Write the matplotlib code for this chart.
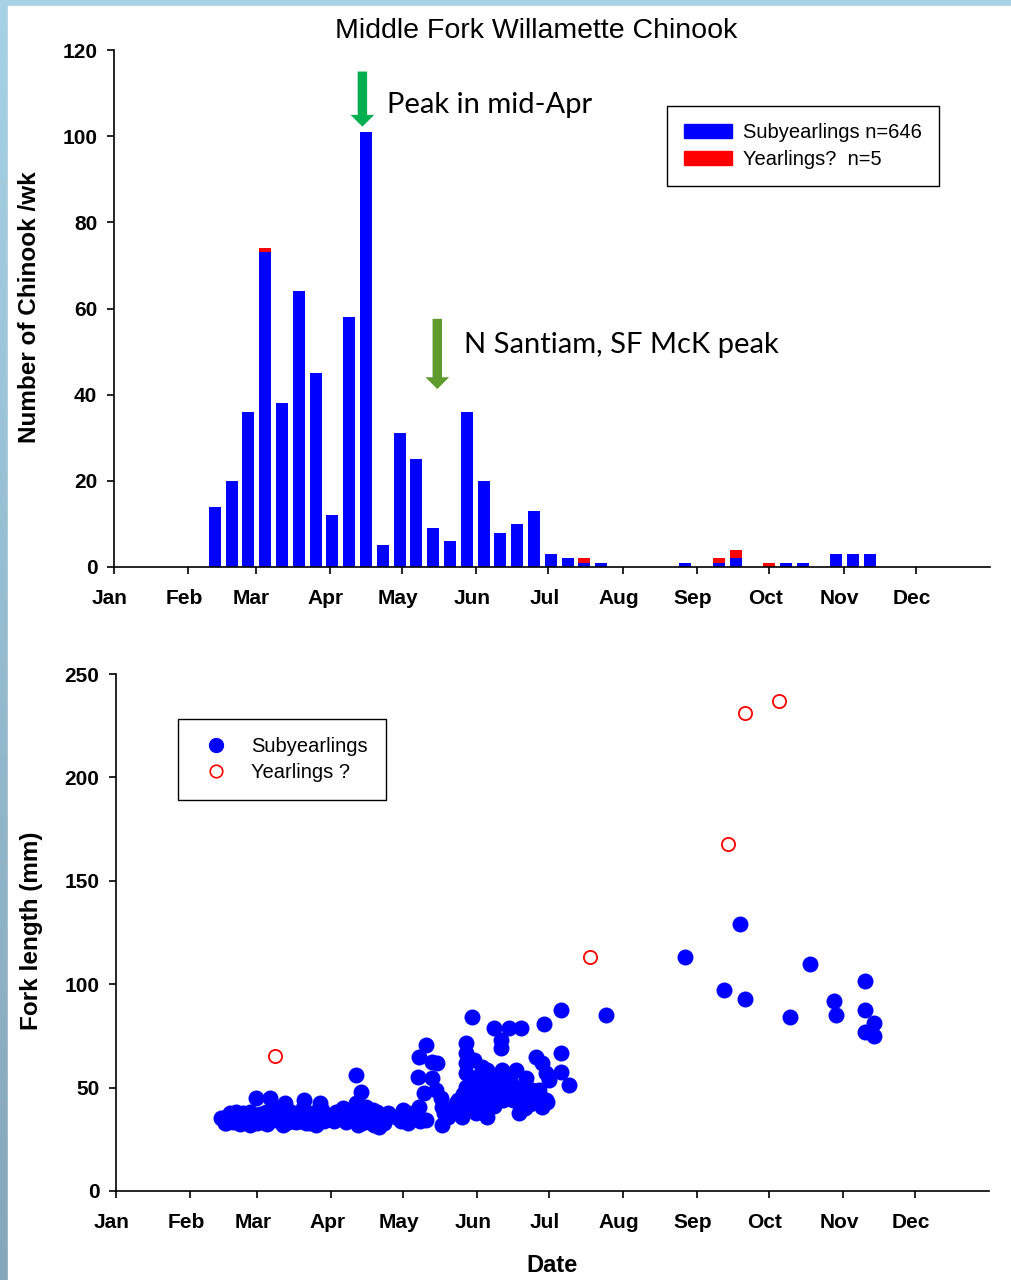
import matplotlib
matplotlib.use('Agg')
import matplotlib.pyplot as plt
import matplotlib.transforms as mtransforms
import numpy as np
from matplotlib.patches import Patch, Rectangle
from matplotlib.lines import Line2D

# weekly catch (day of year of the week, counts)
week_day = [42, 49, 56, 63, 70, 77, 84, 91, 98, 105, 112, 119, 126, 133, 140,
            147, 154, 161, 168, 175, 182, 189, 196, 203, 238, 252, 259, 273,
            280, 287, 301, 308, 315]
subyearling_n = [14, 20, 36, 73, 38, 64, 45, 12, 58, 101, 5, 31, 25, 9, 6,
                 36, 20, 8, 10, 13, 3, 2, 1, 1, 1, 1, 2, 0,
                 1, 1, 3, 3, 3]
yearling_n = [0, 0, 0, 1, 0, 0, 0, 0, 0, 0, 0, 0, 0, 0, 0,
              0, 0, 0, 0, 0, 0, 0, 1, 0, 0, 1, 2, 1,
              0, 0, 0, 0, 0]

# fork length of individual fish (day of year, mm)
sub_day = [44.1, 47.5, 50.3, 53.1, 45.5, 48.9, 58.7, 64.2, 70.5, 57.3, 55.9,
           61.4, 67.0, 69.8, 72.6, 62.8, 68.4, 78.8, 85.1, 76.7, 79.5, 83.7,
           86.5, 82.3, 75.3, 93.4, 96.2, 100.4, 102.4, 100.4, 104.5, 107.3,
           101.0, 110.1, 113.6, 105.9, 119.8, 121.2, 124.0, 126.8, 128.9,
           126.1, 126.8, 129.6, 132.3, 134.4, 132.3, 133.7, 135.8, 136.5,
           137.2, 136.5, 129.6, 142.1, 143.5, 144.8, 146.2, 146.2, 146.2,
           146.2, 146.2, 147.6, 149.0, 150.4, 149.7, 153.2, 155.3, 154.6,
           151.8, 156.0, 157.4, 155.3, 160.1, 161.5, 164.3, 167.1, 168.5,
           168.5, 167.1, 171.3, 174.0, 176.8, 175.4, 178.2, 179.6, 181.0,
           179.6, 178.2, 172.6, 149.0, 158.0, 164.3, 169.2, 160.8, 160.8,
           178.9, 186.1, 186.1, 186.1, 189.3, 205.0, 237.7, 254.0, 261.0,
           263.0, 282.0, 290.0, 300.0, 301.0, 313.0, 313.0, 313.0, 317.0,
           317.0, 46.0, 52.0, 59.0, 66.0, 74.0, 81.0, 88.0, 97.0, 103.0,
           117.0, 122.0, 139.0, 145.0, 152.0, 158.0, 165.0, 170.0,
           46, 50, 52, 54, 56, 59, 60, 63, 65, 66, 71, 73, 74,
           77, 78, 80, 81, 84, 86, 87,
           91, 92, 94, 95, 98, 99, 103, 104, 106, 108, 109, 111, 112,
           119, 120, 121, 122, 123, 125, 126, 127,
           141, 143, 145, 147, 148, 149, 150, 151, 152, 153, 154, 156, 157,
           158, 159, 162, 163, 165, 166, 169, 170, 171, 173, 175, 177, 180]
sub_len = [35.1, 37.6, 38.4, 37.6, 32.7, 33.5, 44.8, 44.8, 42.4, 35.9, 31.9,
           33.5, 34.3, 31.9, 35.9, 38.4, 38.4, 44.0, 42.4, 37.6, 32.7, 31.9,
           36.7, 37.6, 33.5, 37.6, 33.5, 56.1, 48.0, 42.4, 40.8, 39.2,
           31.9, 31.1, 37.6, 33.5, 39.2, 34.3, 37.6, 40.8, 47.2,
           55.3, 65.0, 70.6, 62.5, 61.7, 54.5, 48.8, 44.8, 40.8,
           37.6, 31.9, 34.3, 42.4, 37.6, 35.9, 71.4, 66.6, 61.7,
           56.9, 50.4, 45.6, 40.8, 37.6, 63.4, 60.1, 58.5, 52.9,
           48.8, 45.6, 44.0, 35.9, 50.4, 58.5, 55.3, 48.8, 42.4,
           37.6, 58.5, 54.5, 48.8, 44.0, 65.0, 61.7, 56.9, 53.7,
           44.0, 40.8, 45.6, 84.3, 78.7, 78.7, 78.7, 73.0, 69.0,
           80.8, 87.5, 66.6, 57.7, 51.3, 85.0, 113.0, 97.0, 129.0,
           93.0, 84.0, 110.0, 92.0, 85.0, 101.5, 87.5, 77.0, 81.0,
           75.0, 36.0, 34.0, 36.0, 36.0, 34.0, 36.0, 35.0, 36.0, 36.0,
           36.0, 37.0, 36.0, 43.0, 46.0, 41.0, 46.0, 50.0,
           33, 35, 32.5, 36, 38, 33, 37, 32.5, 36, 40, 33, 38, 34,
           34, 40, 36, 33, 34, 39, 34,
           34, 38, 36, 40, 35, 38, 33, 37, 36, 32, 38, 35, 33,
           34, 37, 38, 33, 35, 36, 38, 34,
           40, 44, 47, 42, 52, 48, 44, 55, 39, 47, 43, 50, 41,
           55, 46, 44, 47, 52, 44, 46, 50, 40, 42, 46, 49, 43]
yr_day = [66.3, 198.0, 256.0, 263.0, 277.0]
yr_len = [65.3, 113.0, 168.0, 231.0, 237.0]

month_start = [0, 31, 59, 90, 120, 151, 181, 212, 243, 273, 304, 334]
month_lab = ['Jan', 'Feb', 'Mar', 'Apr', 'May', 'Jun', 'Jul', 'Aug', 'Sep',
             'Oct', 'Nov', 'Dec']

plt.rcParams['font.family'] = ['Liberation Sans', 'DejaVu Sans']

fig = plt.figure(figsize=(10.12, 12.8), dpi=100)

# slide-like background: blue band on the left and top
bg = fig.add_axes([0, 0, 1, 1], zorder=-10)
grad = np.linspace(0, 1, 256).reshape(-1, 1)
bg.imshow(grad, aspect='auto', cmap=matplotlib.colors.LinearSegmentedColormap.from_list(
    'bg', ['#a6d2e4', '#86a6b9']), extent=[0, 1, 0, 1])
bg.add_patch(Rectangle((8 / 1012, 0), 1, 1 - 6 / 1280, color='white', zorder=2))
bg.set_xlim(0, 1)
bg.set_ylim(0, 1)
bg.axis('off')

shift = mtransforms.ScaledTranslation(-4 / 100, 0, fig.dpi_scale_trans)


def style_axis(ax, ymax, ystep):
    ax.set_xlim(0, 365)
    ax.set_ylim(0, ymax)
    ax.set_xticks(month_start)
    ax.set_xticklabels(month_lab)
    ax.set_yticks(np.arange(0, ymax + 1, ystep))
    for s in ['top', 'right']:
        ax.spines[s].set_visible(False)
    for s in ['left', 'bottom']:
        ax.spines[s].set_linewidth(1.2)
    ax.tick_params(axis='x', length=5, width=1.2, pad=11, labelsize=15)
    ax.tick_params(axis='y', length=5, width=1.2, pad=7, labelsize=15)
    for lab in ax.get_xticklabels():
        lab.set_fontweight('bold')
        lab.set_transform(lab.get_transform() + shift)
    for lab in ax.get_yticklabels():
        lab.set_fontweight('bold')


# top: weekly counts
ax1 = fig.add_axes([114 / 1012, 1 - 567 / 1280, 876 / 1012, 517 / 1280])
ax1.bar(week_day, subyearling_n, width=5, color='#0000ff', zorder=2)
ax1.bar(week_day, yearling_n, width=5, bottom=subyearling_n, color='#ff0000', zorder=2)
style_axis(ax1, 120, 20)

ax1.annotate('', xy=(103.5, 102.2), xytext=(103.5, 115),
             arrowprops=dict(arrowstyle='simple,head_length=0.5,head_width=1.0,tail_width=0.4',
                             mutation_scale=17, fc='#00b050', ec='none',
                             shrinkA=0, shrinkB=0))
ax1.annotate('', xy=(134.7, 41.3), xytext=(134.7, 57.6),
             arrowprops=dict(arrowstyle='simple,head_length=0.5,head_width=1.0,tail_width=0.4',
                             mutation_scale=17, fc='#5f9b2c', ec='none',
                             shrinkA=0, shrinkB=0))
ax1.text(113.7, 107.2, 'Peak in mid-Apr', fontsize=21, family=['Lato', 'DejaVu Sans'],
         ha='left', va='center')
ax1.text(145.8, 51.5, 'N Santiam, SF McK peak', fontsize=21,
         family=['Lato', 'DejaVu Sans'], ha='left', va='center')

leg1 = ax1.legend(handles=[Patch(color='#0000ff', label='Subyearlings n=646'),
                           Patch(color='#ff0000', label='Yearlings?  n=5')],
                  loc='upper right', bbox_to_anchor=(0.942, 0.892), fontsize=14.5,
                  handlelength=2.4, handleheight=0.75, handletextpad=0.55,
                  labelspacing=0.4, borderpad=0.85, borderaxespad=0,
                  fancybox=False, edgecolor='black', framealpha=1)
leg1.get_frame().set_linewidth(1.0)

# bottom: fork length
ax2 = fig.add_axes([116 / 1012, 1 - 1191 / 1280, 873 / 1012, 517 / 1280])
ax2.plot(sub_day, sub_len, 'o', color='#0000ff', markersize=11.5, mew=0, zorder=3,
         clip_on=False)
ax2.plot(yr_day, yr_len, 'o', mfc='none', mec='#ff0000', markersize=9.5, mew=1.3,
         zorder=4)
style_axis(ax2, 250, 50)

leg2 = ax2.legend(handles=[Line2D([], [], ls='none', marker='o', color='#0000ff',
                                  markersize=10, label='Subyearlings'),
                           Line2D([], [], ls='none', marker='o', mfc='none', mec='#ff0000',
                                  mew=1.2, markersize=9, label='Yearlings ?')],
                  loc='upper left', bbox_to_anchor=(0.071, 0.913), fontsize=14.5,
                  handlelength=2.0, handletextpad=0.75, labelspacing=0.35,
                  borderpad=0.9, borderaxespad=0, fancybox=False,
                  edgecolor='black', framealpha=1)
leg2.get_frame().set_linewidth(1.0)

fig.text(536 / 1012, 1 - 31 / 1280, 'Middle Fork Willamette Chinook', fontsize=20.5,
         ha='center', va='center')
fig.text(30 / 1012, 1 - 307 / 1280, 'Number of Chinook /wk', fontsize=17.5,
         fontweight='bold', rotation=90, ha='center', va='center')
fig.text(32 / 1012, 1 - 931 / 1280, 'Fork length (mm)', fontsize=17.5,
         fontweight='bold', rotation=90, ha='center', va='center')
fig.text(552 / 1012, 1 - 1265 / 1280, 'Date', fontsize=17, fontweight='bold',
         ha='center', va='center')

fig.savefig('out.png', dpi=100)
